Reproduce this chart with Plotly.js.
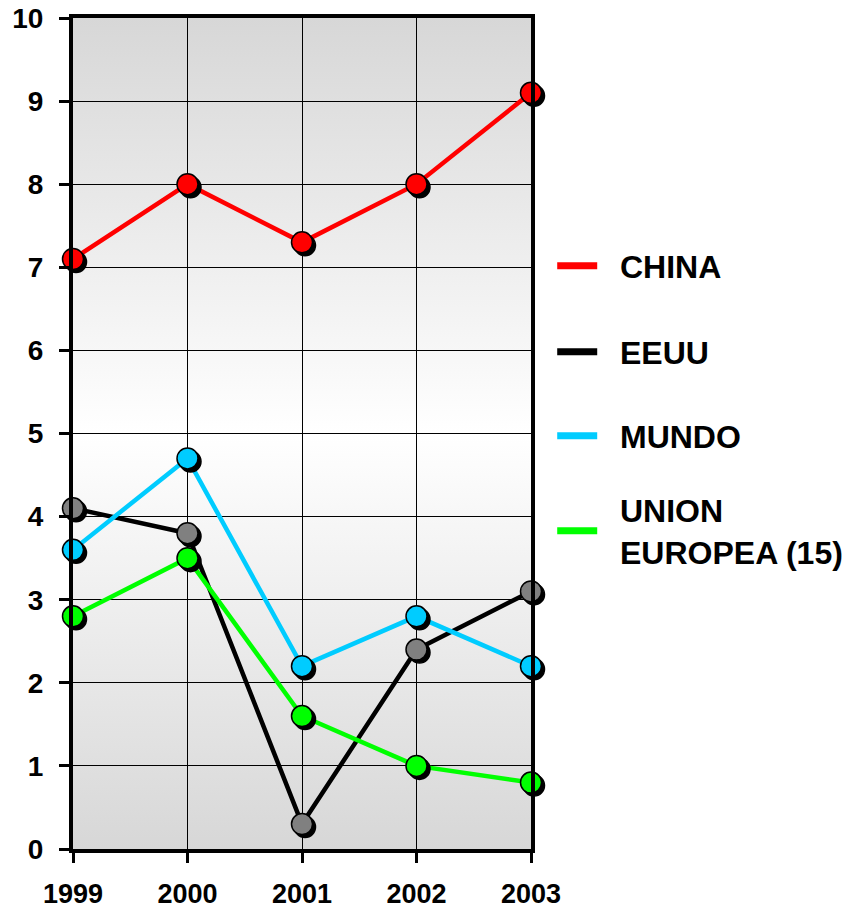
<!DOCTYPE html>
<html>
<head>
<meta charset="utf-8">
<script src="https://cdn.plot.ly/plotly-3.0.1.min.js"></script>
<style>
  html, body { margin: 0; padding: 0; background: #fff; }
  #chart { width: 845px; height: 909px; }
  .scatterlayer .points path.point { filter: drop-shadow(3px 3px 0 #000); }
  .legendsymbols { display: none; }
  .legendlines path { stroke-width: 7px !important; }
</style>
</head>
<body>
<div id="chart"></div>
<script>
const years = ['1999', '2000', '2001', '2002', '2003'];
const seriesNames = ['CHINA', 'EEUU', 'MUNDO', 'UNION<br>EUROPEA (15)'];
const china = [7.1, 8.0, 7.3, 8.0, 9.1];
const eeuu = [4.1, 3.8, 0.3, 2.4, 3.1];
const mundo = [3.6, 4.7, 2.2, 2.8, 2.2];
const unionEuropea = [2.8, 3.5, 1.6, 1.0, 0.8];
const yTicks = [0, 1, 2, 3, 4, 5, 6, 7, 8, 9, 10];

const lineColors = ['#ff0000', '#000000', '#00ccff', '#00ff00'];
const markerColors = ['#ff0000', '#808080', '#00ccff', '#00ff00'];
const allValues = [china, eeuu, mundo, unionEuropea];
const legendIds = ['legend', 'legend2', 'legend3', 'legend4'];
const legendY = [0.7074, 0.6128, 0.5204, 0.4158];

const FONT = 'Liberation Sans, Arial, sans-serif';
// small indent between the legend line sample and its text
const indent = s => s.split('<br>').map(p => '\u00a0\u00a0' + p).join('<br>');

const traces = allValues.map((vals, i) => ({
  type: 'scatter',
  mode: 'lines+markers',
  x: years,
  y: vals,
  name: indent(seriesNames[i]),
  legend: legendIds[i],
  cliponaxis: false,
  line: { color: lineColors[i], width: 4.5 },
  marker: { size: 21, color: markerColors[i], line: { color: '#000', width: 1.5 } }
}));

const gradSvg = "<svg xmlns='http://www.w3.org/2000/svg' width='100' height='100' preserveAspectRatio='none'>" +
  "<defs><linearGradient id='g' x1='0' y1='0' x2='0' y2='1'>" +
  "<stop offset='0' stop-color='#d7d7d7'/><stop offset='0.5' stop-color='#ffffff'/><stop offset='1' stop-color='#d7d7d7'/>" +
  "</linearGradient></defs><rect width='100' height='100' fill='url(#g)'/></svg>";

const layout = {
  width: 845,
  height: 909,
  margin: { l: 73, r: 314, t: 18, b: 60 },
  paper_bgcolor: '#ffffff',
  plot_bgcolor: '#ffffff',
  font: { family: FONT, color: '#000', size: 28, weight: 'bold' },
  images: [{
    source: 'data:image/svg+xml;charset=utf-8,' + encodeURIComponent(gradSvg),
    xref: 'paper', yref: 'paper', x: 0, y: 1, sizex: 1, sizey: 1,
    sizing: 'stretch', layer: 'below', xanchor: 'left', yanchor: 'top'
  }],
  xaxis: {
    type: 'category',
    range: [0, 4],
    showgrid: true, gridcolor: '#000', gridwidth: 1,
    showline: true, linecolor: '#000', linewidth: 4, mirror: true,
    ticks: 'outside', ticklen: 10, tickwidth: 3, tickcolor: '#000',
    ticklabelstandoff: 8,
    tickfont: { family: FONT, size: 27, color: '#000', weight: 'bold' },
    zeroline: false, fixedrange: true
  },
  yaxis: {
    range: [0, 10],
    tickvals: yTicks,
    ticktext: yTicks.map(String),
    showgrid: true, gridcolor: '#000', gridwidth: 1,
    showline: true, linecolor: '#000', linewidth: 4, mirror: true,
    ticks: 'outside', ticklen: 10, tickwidth: 3, tickcolor: '#000',
    ticklabelstandoff: 10,
    tickfont: { family: FONT, size: 28, color: '#000', weight: 'bold' },
    zeroline: false, fixedrange: true
  },
  showlegend: true
};

legendIds.forEach((id, i) => {
  layout[id] = {
    xref: 'container', yref: 'container',
    x: 0.6535, y: legendY[i], xanchor: 'left', yanchor: 'middle',
    bgcolor: 'rgba(0,0,0,0)', borderwidth: 0,
    itemwidth: 40,
    font: { family: FONT, size: 32, color: '#000', weight: 'bold' }
  };
});

Plotly.newPlot('chart', traces, layout, { displayModeBar: false, staticPlot: true });
</script>
</body>
</html>
